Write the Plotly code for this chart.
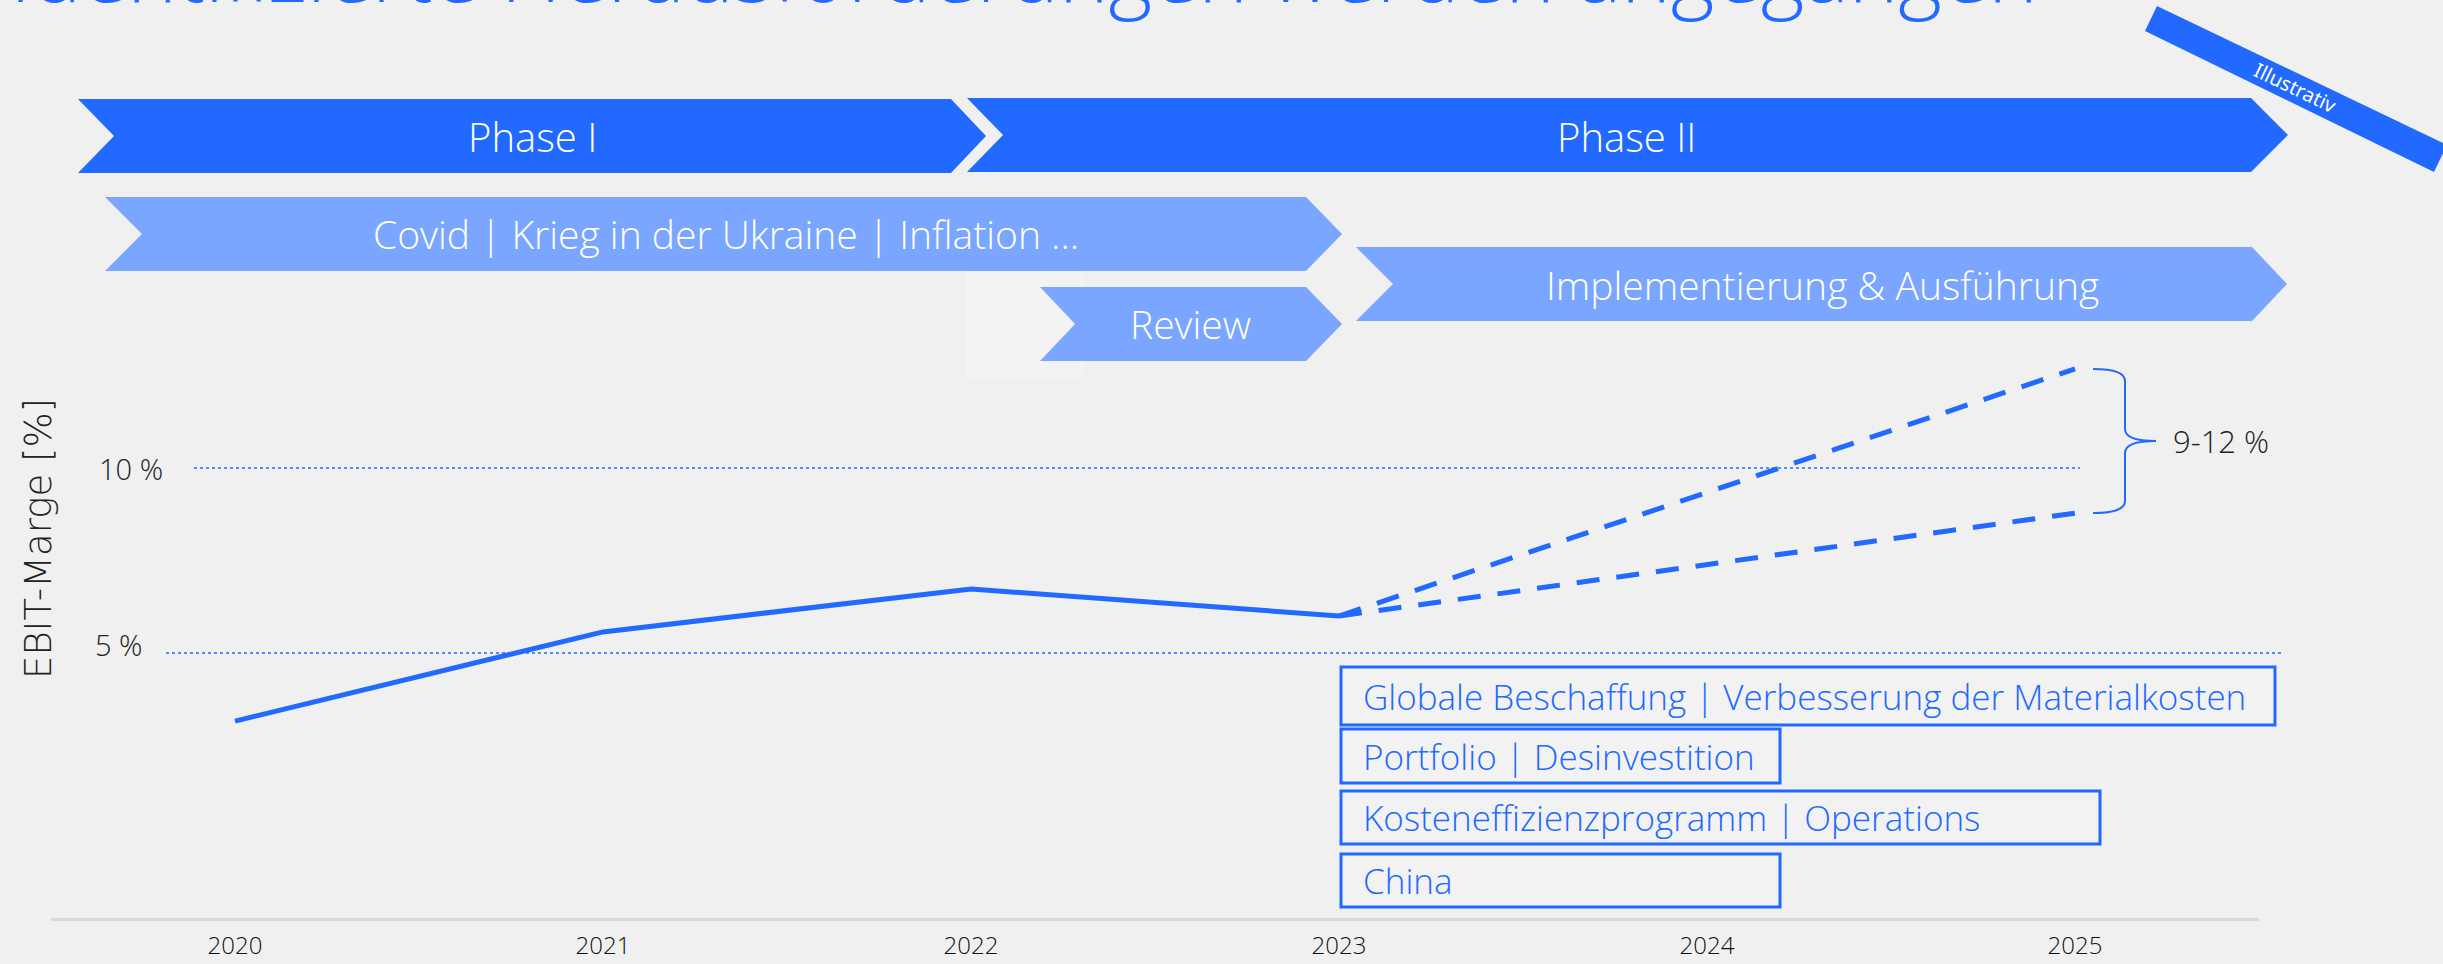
import plotly.graph_objects as go

# ---------------- data ----------------
years = [2020, 2021, 2022, 2023, 2024, 2025]
year_labels = ["2020", "2021", "2022", "2023", "2024", "2025"]
hist_years = [2020, 2021, 2022, 2023]
hist_margin = [3.16, 5.57, 6.73, 6.0]
proj_years = [2023, 2025]
proj_high = [6.0, 12.68]
proj_low = [6.0, 8.78]
y_tick_vals = [5, 10]
y_tick_text = ["5 %", "10 %"]
range_label = "9-12 %"
title_text = "Identifizierte Herausforderungen werden angegangen"
phase_labels = ["Phase I", "Phase II"]
event_labels = ["Covid | Krieg in der Ukraine | Inflation ...", "Review", "Implementierung & Ausführung"]
lever_labels = [
    "Globale Beschaffung | Verbesserung der Materialkosten",
    "Portfolio | Desinvestition",
    "Kosteneffizienzprogramm | Operations",
    "China",
]

# ---------------- layout helpers ----------------
W, H = 2443, 964
ML, MR, MT, MB = 51, 184, 0, 46
PW, PH = W - ML - MR, H - MT - MB

def X(px):
    return (px - ML) / PW

def Y(py):
    return (H - MB - py) / PH

BLUE = "#2169FF"
LIGHT = "#7AA6FF"
BG = "#F0F0F0"
FONT = "Open Sans"

fig = go.Figure()

fig.add_trace(go.Scatter(x=hist_years, y=hist_margin, mode="lines",
                         line=dict(color=BLUE, width=5), hoverinfo="skip"))
fig.add_trace(go.Scatter(x=proj_years, y=proj_high, mode="lines",
                         line=dict(color=BLUE, width=5, dash="23px,17px"), hoverinfo="skip"))
fig.add_trace(go.Scatter(x=proj_years, y=proj_low, mode="lines",
                         line=dict(color=BLUE, width=5, dash="23px,17px"), hoverinfo="skip"))

shapes = []
annotations = []

def path(points):
    return "M " + " L ".join(f"{X(a):.5f},{Y(b):.5f}" for a, b in points) + " Z"

def chevron(left, notch, right, tip, top, bot, color):
    mid = (top + bot) / 2
    pts = [(left, top), (right, top), (tip, mid), (right, bot), (left, bot), (notch, mid)]
    shapes.append(dict(type="path", xref="paper", yref="paper", path=path(pts),
                       fillcolor=color, line=dict(width=0), layer="below"))

# faint highlight rectangle
shapes.append(dict(type="rect", xref="paper", yref="paper", x0=X(966), x1=X(1084), y0=Y(378), y1=Y(270),
                   fillcolor="#F3F3F3", line=dict(width=0), layer="below"))

# phases
chevron(78, 114, 951, 986, 99, 173, BLUE)
chevron(967, 1003, 2251, 2288, 98, 172, BLUE)
# events
chevron(105, 142, 1306, 1342, 197, 271, LIGHT)
chevron(1040, 1075, 1306, 1342, 287, 361, LIGHT)
chevron(1356, 1393, 2252, 2287, 247, 321, LIGHT)

def text(px, py, s, size, color="white", xanchor="center", angle=0, family=FONT, weight=300):
    annotations.append(dict(x=X(px), y=Y(py), xref="paper", yref="paper", text=s, showarrow=False,
                            xanchor=xanchor, yanchor="middle", textangle=angle,
                            font=dict(family=family, size=size, color=color, weight=weight)))

text(532, 136, phase_labels[0], 40)
text(1626, 136, phase_labels[1], 40)
text(726, 234, event_labels[0], 39)
text(1190, 324, event_labels[1], 39)
text(1822, 284, event_labels[2], 39)

# Illustrativ banner
shapes.append(dict(type="path", xref="paper", yref="paper",
                   path=path([(2157, 6), (2447, 145), (2434, 172), (2145, 31)]),
                   fillcolor=BLUE, line=dict(width=0)))
text(2295, 88, "Illustrativ", 20, angle=25.7, family="Noto Sans", weight=400)

# title (cut off at the top edge, as in the original slide)
annotations.append(dict(x=X(8), y=Y(29), xref="paper", yref="paper", text=title_text, showarrow=False,
                        xanchor="left", yanchor="bottom",
                        font=dict(family=FONT, size=84, color=BLUE, weight=300)))

# gridlines (dotted)
shapes.append(dict(type="line", xref="paper", yref="y", x0=X(194), x1=X(2080), y0=y_tick_vals[1], y1=y_tick_vals[1],
                   line=dict(color=BLUE, width=1.5, dash="dot"), layer="below"))
shapes.append(dict(type="line", xref="paper", yref="y", x0=X(166), x1=X(2282), y0=y_tick_vals[0], y1=y_tick_vals[0],
                   line=dict(color=BLUE, width=1.5, dash="dot"), layer="below"))

# y tick labels
annotations.append(dict(x=X(165), y=y_tick_vals[1], xref="paper", yref="y", text=y_tick_text[1], showarrow=False,
                        xanchor="right", yanchor="middle", font=dict(family=FONT, size=29, color="#222222", weight=300)))
annotations.append(dict(x=X(145), y=y_tick_vals[0] + 0.22, xref="paper", yref="y", text=y_tick_text[0], showarrow=False,
                        xanchor="right", yanchor="middle", font=dict(family=FONT, size=29, color="#222222", weight=300)))

# y axis title
text(38, 539, "EBIT-Marge [%]", 37, color="#222222", angle=-90, family="DejaVu Sans", weight=300)

# bracket
bx0, bx1, btip = 2093, 2125, 2156
btop, bbot, bmid = 369, 513, 441
br = (f"M {X(bx0)},{Y(btop)} Q {X(bx1)},{Y(btop)} {X(bx1)},{Y(btop+12)} L {X(bx1)},{Y(bmid-12)} "
      f"Q {X(bx1)},{Y(bmid)} {X(btip)},{Y(bmid)} Q {X(bx1)},{Y(bmid)} {X(bx1)},{Y(bmid+12)} "
      f"L {X(bx1)},{Y(bbot-12)} Q {X(bx1)},{Y(bbot)} {X(bx0)},{Y(bbot)}")
shapes.append(dict(type="path", xref="paper", yref="paper", path=br, line=dict(color=BLUE, width=2)))
text(2171, 441, range_label, 31, color="#222222", xanchor="left")

# lever boxes
boxes = [(1341, 2275, 667, 725), (1341, 1780, 729, 783), (1341, 2100, 791, 844), (1341, 1780, 854, 907)]
for (x0, x1, y0, y1), lab in zip(boxes, lever_labels):
    shapes.append(dict(type="rect", xref="paper", yref="paper", x0=X(x0), x1=X(x1), y0=Y(y1), y1=Y(y0),
                       fillcolor="#F2F2F2", line=dict(color=BLUE, width=3), layer="below"))
    text(x0 + 20, (y0 + y1) / 2, lab, 35, color=BLUE, xanchor="left")

fig.update_layout(
    width=W, height=H,
    margin=dict(l=ML, r=MR, t=MT, b=MB, autoexpand=False),
    paper_bgcolor=BG, plot_bgcolor=BG,
    showlegend=False,
    shapes=shapes, annotations=annotations,
    xaxis=dict(range=[2019.5, 2025.5], tickvals=years, ticktext=year_labels, showgrid=False, zeroline=False,
               showline=True, linecolor="#D9D9D9", linewidth=3, ticks="", ticklabelstandoff=4, automargin=False,
               tickfont=dict(family=FONT, size=24, color="#111111", weight=300), fixedrange=True),
    yaxis=dict(range=[(838 - 918) / 37, 838 / 37], visible=False, showgrid=False, zeroline=False,
               automargin=False, fixedrange=True),
)

fig.write_html("out.html")
